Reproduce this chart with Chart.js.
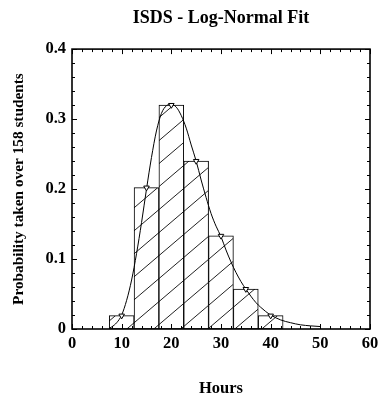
<!DOCTYPE html>
<html>
<head>
<meta charset="utf-8">
<script src="https://cdn.jsdelivr.net/npm/chart.js@4.4.1/dist/chart.umd.min.js"></script>
<style>
  html, body { margin: 0; padding: 0; background: #fff; }
  #wrap { width: 388px; height: 411px; }
</style>
</head>
<body>
<div id="wrap"><canvas id="fitChart" width="388" height="411"></canvas></div>
<script>
// Histogram bins (bin centres, hours) and probabilities
const binCenters = [10, 15, 20, 25, 30, 35, 40];
const binProb = [0.019, 0.202, 0.320, 0.240, 0.133, 0.057, 0.019];

// Log-normal fit curve
const fitHours = [7.5, 8, 9, 10, 11, 12, 13, 14, 15, 16, 17, 18, 19, 20, 21, 22, 23, 24, 25, 26, 27, 28, 29, 30,
    31, 32, 33, 34, 35, 36, 37, 38, 39, 40, 42, 44, 46, 48, 50];
const fitProb = [0.001, 0.003, 0.009, 0.020, 0.041, 0.070, 0.108, 0.152, 0.200, 0.245, 0.283, 0.308, 0.319, 0.321,
    0.317, 0.305, 0.287, 0.263, 0.240, 0.213, 0.188, 0.165, 0.147, 0.132, 0.113, 0.096, 0.081, 0.068, 0.057,
    0.047, 0.038, 0.031, 0.025, 0.020, 0.013, 0.009, 0.006, 0.0045, 0.0035];

// Axis ticks
const xTicks = [0, 10, 20, 30, 40, 50, 60];
const yTicks = [0, 0.1, 0.2, 0.3, 0.4];

const serif = "'Liberation Serif', 'Times New Roman', serif";

// diagonal hatch pattern for the bars (a bit shallower than 45 deg)
function makeHatch() {
    const w = 27, h = 23;
    const c = document.createElement('canvas');
    c.width = w; c.height = h;
    const g = c.getContext('2d');
    g.fillStyle = '#fff';
    g.fillRect(0, 0, w, h);
    g.strokeStyle = '#222';
    g.lineWidth = 1;
    const k = h / w;
    g.beginPath();
    for (const dx of [-w, 0, w]) {
        g.moveTo(dx - 2, h + 2 * k); g.lineTo(dx + w + 2, -2 * k);
    }
    g.stroke();
    return g.createPattern(c, 'repeat');
}

// box frame with inward ticks on all four sides
const framePlugin = {
    id: 'frame',
    afterDraw(chart) {
        const { ctx, chartArea: a, scales: { x, y } } = chart;
        ctx.save();
        ctx.strokeStyle = '#000';
        ctx.lineWidth = 1;
        ctx.beginPath();
        for (let hr = 0; hr <= 60; hr += 2) {
            const px = Math.round(x.getPixelForValue(hr)) + 0.5;
            const len = hr % 10 === 0 ? 5 : 3;
            ctx.moveTo(px, a.bottom); ctx.lineTo(px, a.bottom - len);
            ctx.moveTo(px, a.top); ctx.lineTo(px, a.top + len);
        }
        for (let i = 0; i <= 20; i++) {
            const py = Math.round(y.getPixelForValue(i * 0.02)) + 0.5;
            const len = i % 5 === 0 ? 5 : 3;
            ctx.moveTo(a.left, py); ctx.lineTo(a.left + len, py);
            ctx.moveTo(a.right, py); ctx.lineTo(a.right - len, py);
        }
        ctx.stroke();
        ctx.lineWidth = 1.6;
        ctx.strokeRect(a.left, a.top, a.right - a.left, a.bottom - a.top);
        ctx.restore();
    }
};

const ctx = document.getElementById('fitChart').getContext('2d');
const chart = new Chart(ctx, {
    type: 'bar',
    data: {
        datasets: [
            {
                type: 'line',
                label: 'markers',
                data: binCenters.map((h, i) => ({ x: h, y: binProb[i] })),
                showLine: false,
                pointStyle: 'triangle',
                rotation: 180,
                pointRadius: 3.2,
                pointBackgroundColor: '#fff',
                pointBorderColor: '#000',
                pointBorderWidth: 1,
                order: 1
            },
            {
                type: 'line',
                label: 'fit',
                data: fitHours.map((h, i) => ({ x: h, y: fitProb[i] })),
                borderColor: '#000',
                borderWidth: 1,
                pointRadius: 0,
                cubicInterpolationMode: 'monotone',
                fill: false,
                order: 2
            },
            {
                type: 'bar',
                label: 'histogram',
                data: binCenters.map((h, i) => ({ x: h, y: binProb[i] })),
                backgroundColor: makeHatch(),
                borderColor: '#000',
                borderWidth: 1,
                borderSkipped: false,
                barPercentage: 1,
                categoryPercentage: 1,
                order: 3
            }
        ]
    },
    options: {
        responsive: false,
        animation: false,
        devicePixelRatio: 1,
        layout: { padding: { left: 0, right: 18, top: 0, bottom: 0 } },
        plugins: {
            legend: { display: false },
            tooltip: { enabled: false },
            title: {
                display: true,
                text: 'ISDS - Log-Normal Fit',
                fullSize: false,
                color: '#000',
                font: { family: serif, size: 18, weight: 'bold' },
                padding: { top: 8, bottom: 19.5 }
            }
        },
        scales: {
            x: {
                type: 'linear',
                min: 0,
                max: 60,
                offset: false,
                grid: { display: false, drawTicks: false, offset: false },
                border: { display: false },
                afterBuildTicks: s => { s.ticks = xTicks.map(v => ({ value: v })); },
                afterFit: s => { s.height = 82; },
                ticks: {
                    color: '#000',
                    padding: 5,
                    maxRotation: 0,
                    font: { family: serif, size: 16.5, weight: 'bold' },
                    callback: v => String(v)
                },
                title: {
                    display: true,
                    text: 'Hours',
                    color: '#000',
                    font: { family: serif, size: 16.5, weight: 'bold' },
                    padding: { top: 0, bottom: 12 }
                }
            },
            y: {
                min: 0,
                max: 0.4,
                grid: { display: false, drawTicks: false },
                border: { display: false },
                afterBuildTicks: s => { s.ticks = yTicks.map(v => ({ value: v })); },
                afterFit: s => { s.width = 72; },
                ticks: {
                    color: '#000',
                    padding: 6,
                    font: { family: serif, size: 16.5, weight: 'bold' },
                    callback: v => v === 0 ? '0' : v.toFixed(1)
                },
                title: {
                    display: true,
                    text: 'Probability taken over 158 students',
                    color: '#000',
                    font: { family: serif, size: 15.3, weight: 'bold' },
                    padding: { top: 10, bottom: 0 }
                }
            }
        }
    },
    plugins: [framePlugin]
});
</script>
</body>
</html>
